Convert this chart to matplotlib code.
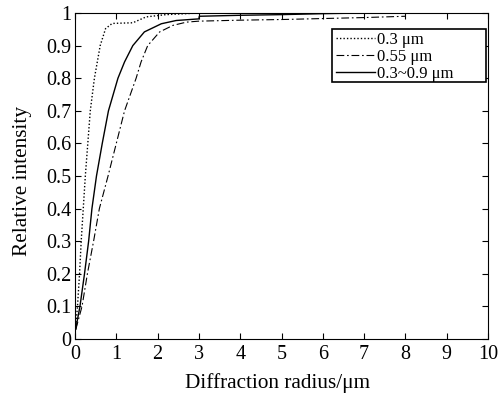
import matplotlib
matplotlib.use("Agg")
import matplotlib.pyplot as plt
from matplotlib.patches import Rectangle
from matplotlib.ticker import FuncFormatter

plt.rcParams['font.family'] = ['Liberation Serif', 'DejaVu Serif']

# 0.3 um
r_03 = [0.02, 0.06, 0.11, 0.15, 0.2, 0.25, 0.31, 0.37, 0.47, 0.61, 0.74, 0.9, 1.4,
        1.72, 2.2, 3.0, 4.0, 5.0, 6.0, 7.0, 8.0]
i_03 = [0.04, 0.1, 0.2, 0.3, 0.4, 0.5, 0.6, 0.7, 0.8, 0.9, 0.952, 0.968, 0.97,
        0.988, 0.995, 1.0, 1.0, 1.0, 1.0, 1.0, 1.0]

# 0.55 um
r_055 = [0.02, 0.17, 0.3, 0.45, 0.59, 0.8, 1.0, 1.2, 1.48, 1.6, 1.76, 2.05, 2.37,
         2.7, 3.0, 4.0, 5.0, 6.0, 7.0, 8.0]
i_055 = [0.03, 0.1, 0.2, 0.3, 0.4, 0.5, 0.6, 0.7, 0.8, 0.85, 0.9, 0.942, 0.962,
         0.972, 0.975, 0.978, 0.98, 0.983, 0.986, 0.99]

# 0.3~0.9 um
r_0309 = [0.02, 0.05, 0.12, 0.23, 0.33, 0.41, 0.52, 0.66, 0.81, 1.04, 1.2, 1.4, 1.68,
          2.09, 2.45, 3.0, 3.01, 4.0, 5.0, 6.0, 7.0]
i_0309 = [0.03, 0.053, 0.1, 0.2, 0.3, 0.4, 0.5, 0.6, 0.7, 0.8, 0.85, 0.9, 0.942,
          0.967, 0.977, 0.982, 0.99, 0.993, 0.995, 0.998, 1.0]

fig = plt.figure(figsize=(5.04, 3.99), dpi=100)
ax = fig.add_axes([75 / 504, 60 / 399, 413 / 504, 326 / 399])

ax.plot(r_03, i_03, color='black', linestyle=(0, (1, 1.5)), linewidth=1.0, label='0.3 μm')
ax.plot(r_055, i_055, color='black', linestyle=(0, (7, 2.5, 1.5, 2.5)), linewidth=0.8,
        label='0.55 μm')
ax.plot(r_0309, i_0309, color='black', linestyle='-', linewidth=1.0, label='0.3~0.9 μm')

ax.set_xlim(0, 10)
ax.set_ylim(0, 1)
ax.set_xticks(range(0, 11))
ax.set_yticks([i / 10 for i in range(11)])
ax.yaxis.set_major_formatter(FuncFormatter(lambda v, p: '%g' % round(v, 1)))
ax.tick_params(direction='in', top=True, right=True, length=4, width=0.8,
               labelsize=14.5, colors='black')
ax.tick_params(axis='x', pad=4.5)
ax.tick_params(axis='y', pad=2.5)
for s in ax.spines.values():
    s.set_linewidth(0.8)

ax.set_xlabel('Diffraction radius/μm', fontsize=15.3)
ax.xaxis.set_label_coords(0.49, -0.105)
ax.set_ylabel('Relative intensity', fontsize=15.3)
ax.yaxis.set_label_coords(-0.104, 0.485)

# legend box is wider than its entries, like the original
box_x0, box_y0, box_x1, box_y1 = 0.622, 0.788, 0.995, 0.951
ax.add_patch(Rectangle((box_x0, box_y0), box_x1 - box_x0, box_y1 - box_y0,
                       transform=ax.transAxes, facecolor='white', edgecolor='black',
                       linewidth=1.2, zorder=4))
leg = ax.legend(loc='upper left', bbox_to_anchor=(box_x0 + 0.005, box_y1 - 0.002),
                fontsize=12, frameon=False, handlelength=2.3, handletextpad=0.15,
                borderpad=0.15, labelspacing=0.05, borderaxespad=0)
leg.set_zorder(5)

fig.savefig('out.png', dpi=100)
